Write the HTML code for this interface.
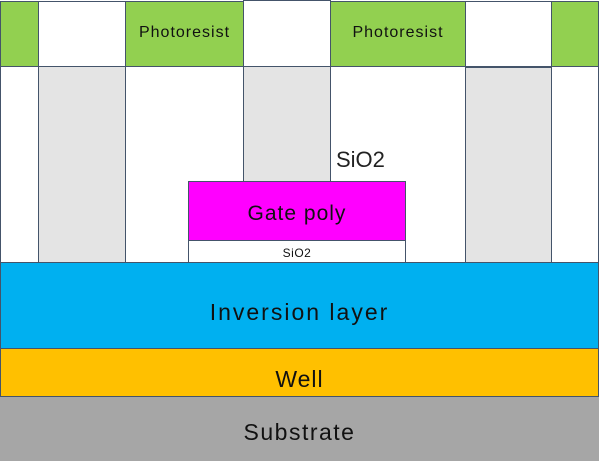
<!DOCTYPE html>
<html><head><style>
body{margin:0;width:600px;height:471px;background:#fff;position:relative;overflow:hidden;font-family:"Liberation Sans",sans-serif;}
.b{position:absolute;box-sizing:border-box;border:1.5px solid #44546a;display:flex;align-items:center;justify-content:center;color:#111;}
.g{background:#92d050}.w{background:#fff}.gr{background:#e4e4e4}
</style></head><body>
<div class="b g" style="left:0;top:1px;width:39px;height:66px"></div>
<div class="b w" style="left:38px;top:1px;width:88px;height:66px"></div>
<div class="b g" style="left:125px;top:1px;width:119px;height:66px;font-size:16px;letter-spacing:1px;padding-bottom:2px">Photoresist</div>
<div class="b w" style="left:243px;top:0;width:88px;height:67px"></div>
<div class="b g" style="left:330px;top:1px;width:136px;height:66px;font-size:16px;letter-spacing:1px;padding-bottom:2px">Photoresist</div>
<div class="b w" style="left:465px;top:1px;width:87px;height:66px"></div>
<div class="b g" style="left:551px;top:1px;width:48px;height:66px"></div>

<div class="b w" style="left:0;top:66px;width:39px;height:197px"></div>
<div class="b gr" style="left:38px;top:66px;width:88px;height:197px"></div>
<div class="b w" style="left:125px;top:66px;width:119px;height:197px"></div>
<div class="b gr" style="left:243px;top:66px;width:88px;height:120px"></div>
<div class="b w" style="left:330px;top:66px;width:136px;height:197px"></div>
<div class="b gr" style="left:465px;top:67px;width:87px;height:196px"></div>
<div class="b w" style="left:551px;top:66px;width:48px;height:197px"></div>
<div style="position:absolute;left:336px;top:147px;font-size:22px;color:#222">SiO2</div>

<div class="b" style="left:188px;top:181px;width:218px;height:60px;background:#ff00ff;font-size:21px;letter-spacing:1px;padding-top:6px">Gate poly</div>
<div class="b w" style="left:188px;top:240px;width:218px;height:23px;font-size:12px;letter-spacing:0.5px;padding-top:2px">SiO2</div>

<div class="b" style="left:0;top:262px;width:599px;height:87px;background:#00b0f0;font-size:23px;letter-spacing:2px;padding-top:14px">Inversion layer</div>
<div class="b" style="left:0;top:348px;width:599px;height:49px;background:#ffc000;font-size:23px;letter-spacing:1px;padding-top:14px">Well</div>
<div style="position:absolute;left:0;top:397px;width:599px;height:64px;background:#a6a6a6;display:flex;align-items:center;justify-content:center;font-size:23px;letter-spacing:1.5px;color:#111;padding-top:7px;box-sizing:border-box">Substrate</div>
</body></html>
